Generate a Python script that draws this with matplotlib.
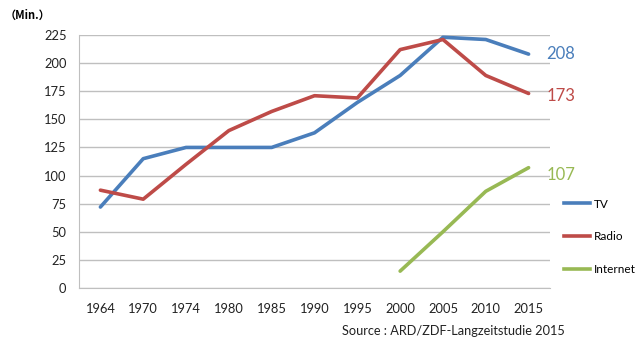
import numpy as np
import matplotlib.pyplot as plt
from matplotlib.lines import Line2D

plt.rcParams["font.family"] = ["Lato", "DejaVu Sans"]

YEARS = ["1964", "1970", "1974", "1980", "1985", "1990", "1995", "2000", "2005", "2010", "2015"]
TV = [72, 115, 125, 125, 125, 138, 165, 189, 223, 221, 208]
RADIO = [87, 79, 110, 140, 157, 171, 169, 212, 221, 189, 173]
INTERNET_YEARS = ["2000", "2005", "2010", "2015"]
INTERNET = [15, 50, 86, 107]
Y_TICKS = [0, 25, 50, 75, 100, 125, 150, 175, 200, 225]

BLUE = "#4A7EBB"
RED = "#BE4B48"
GREEN = "#98B954"
GRID = "#BFBFBF"

fig = plt.figure(figsize=(6.4, 3.43), dpi=100)
ax = fig.add_axes([79 / 640, 1 - 288 / 343, (550 - 79) / 640, (288 - 35) / 343])

x = np.arange(len(YEARS))
xi = np.array([YEARS.index(y) for y in INTERNET_YEARS])

ax.plot(x, TV, color=BLUE, lw=2.6, solid_capstyle="round", zorder=3)
ax.plot(x, RADIO, color=RED, lw=2.6, solid_capstyle="round", zorder=3)
ax.plot(xi, INTERNET, color=GREEN, lw=2.6, solid_capstyle="round", zorder=3)

ax.set_xlim(-0.5, len(YEARS) - 0.5)
ax.set_ylim(0, 225)
ax.set_xticks(x)
ax.set_xticklabels(YEARS)
ax.set_yticks(Y_TICKS)
ax.yaxis.grid(True, color=GRID, lw=1)
ax.set_axisbelow(True)
ax.tick_params(axis="both", length=0, labelsize=9.3, colors="#222222")
ax.tick_params(axis="x", pad=11)
ax.tick_params(axis="y", pad=9)
for side in ["top", "right"]:
    ax.spines[side].set_visible(False)
ax.spines["left"].set_color(GRID)
ax.spines["bottom"].set_color(GRID)

# end labels (slightly nudged down like the original)
for vals, col, dy in [(TV, BLUE, 0), (RADIO, RED, -2), (INTERNET, GREEN, -5)]:
    ax.annotate(str(vals[-1]), (x[-1], vals[-1]), xytext=(13, dy), textcoords="offset points",
                color=col, fontsize=12, va="center", ha="left")

handles = [Line2D([], [], color=c, lw=2.6) for c in (BLUE, RED, GREEN)]
fig.legend(handles, ["TV", "Radio", "Internet"], loc="upper left",
           bbox_to_anchor=(553 / 640, 1 - 188 / 343), frameon=False, fontsize=8.5,
           handlelength=2.2, labelspacing=1.85, handletextpad=0.4)

fig.text(5 / 640, 1 - 15 / 343, "（Min.）", fontsize=8, va="center", ha="left",
         family=["Noto Sans CJK JP", "DejaVu Sans"], weight="bold")
fig.text(342 / 640, 1 - 331 / 343, "Source : ARD/ZDF-Langzeitstudie 2015", fontsize=9.2,
         va="center", ha="left", color="#222222")

fig.savefig("out.png", dpi=100)
